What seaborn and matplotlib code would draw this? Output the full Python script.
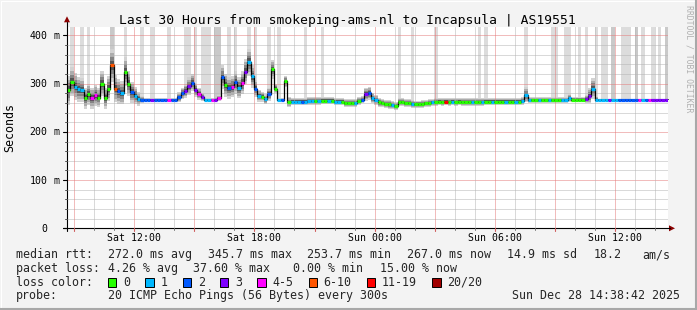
import numpy as np
import pandas as pd
import matplotlib
matplotlib.use("Agg")
import matplotlib.pyplot as plt
import seaborn as sns
from matplotlib.lines import Line2D
from matplotlib.patches import Rectangle, Polygon

# ---------------- data ----------------
start_time = "2025-12-27 08:38:42"
span_hours = 30
step_minutes = 10

median_ms = [
    286, 304, 294, 288, 287, 270, 278, 270, 276, 271, 300, 270, 290, 338, 290, 284, 281, 325, 300, 282, 275, 268, 267,
    267, 267, 267, 267, 267, 267, 267, 267, 267, 267,
    272, 280, 285, 295, 302, 287, 279, 272,
    267, 267, 267, 267, 270,
    314, 297, 291, 294, 303, 292, 302, 325, 345, 315, 290, 275, 273, 268, 278, 330, 290,
    267, 267,
    305, 262, 263,
    263, 263, 263, 263, 264, 264, 264, 264, 265, 265, 265, 265, 263, 263, 263, 260, 260, 260, 260, 264, 267,
    278, 280, 270, 266, 261, 260, 258, 257, 256, 254, 262, 262, 260, 260, 258, 257, 257, 258, 259, 260, 261,
    262, 263, 262, 263, 262, 263, 262, 263, 262, 262,
    262, 262, 262, 262, 262, 263, 263, 263, 263, 263, 263, 263, 263, 263, 263, 263, 264,
    277,
    266, 266, 266, 266, 266, 266, 266, 266, 266, 266, 266, 266,
    270,
    267, 267, 267, 267, 268,
    275, 290, 267,
    267, 267, 267, 267, 267, 267, 267, 267, 267, 267, 267, 267, 267, 267, 267, 267, 267, 267, 267, 267, 267, 267,
]

loss_class = [
    0, 0, 1, 1, 1, 0, 0, 4, 4, 0, 0, 0, 0, 5, 5, 2, 1, 0, 0, 2, 1, 1, 2,
    2, 2, 3, 2, 2, 2, 2, 4, 2, 2,
    2, 2, 3, 3, 2, 3, 4, 3,
    1, 1, 4, 3, 4,
    2, 0, 2, 4, 2, 1, 4, 3, 1, 1, 2, 1, 0, 1, 2, 0, 0,
    1, 2,
    0, 0, 1,
    1, 1, 2, 1, 1, 1, 0, 1, 0, 0, 1, 0, 1, 1, 0, 0, 0, 0, 1, 0, 2,
    3, 2, 1, 1, 0, 0, 0, 0, 1, 0, 0, 0, 0, 0, 1, 0, 0, 0, 0, 0, 1,
    0, 0, 0, 6, 0, 1, 0, 0, 0, 0,
    0, 1, 0, 0, 1, 0, 0, 1, 0, 0, 0, 1, 0, 0, 1, 0, 1,
    1,
    1, 0, 0, 1, 0, 0, 1, 0, 0, 0, 1, 1,
    1,
    0, 0, 0, 0, 3,
    3, 1, 1,
    1, 1, 1, 3, 1, 1, 2, 2, 2, 2, 2, 2, 4, 1, 2, 4, 3, 3, 3, 3, 3, 3,
]

smoke_ms = [
    30, 30, 28, 25, 24, 22, 22, 22, 22, 20, 26, 22, 26, 34, 28, 26, 24, 30, 26, 22, 18, 14, 8,
    3, 3, 3, 3, 3, 3, 3, 3, 3, 3,
    10, 12, 15, 18, 18, 15, 12, 8,
    3, 3, 3, 4, 6,
    24, 24, 22, 22, 24, 22, 24, 26, 28, 24, 18, 12, 10, 10, 14, 20, 10,
    3, 3,
    12, 10, 8,
    8, 8, 8, 8, 8, 8, 8, 8, 8, 8, 8, 8, 8, 8, 8, 9, 9, 9, 9, 8, 8,
    14, 14, 11, 10, 9, 9, 9, 9, 9, 9, 8, 8, 8, 8, 8, 8, 8, 8, 8, 8, 8,
    8, 8, 8, 8, 8, 8, 8, 8, 8, 8,
    8, 8, 8, 8, 8, 8, 8, 8, 8, 8, 8, 8, 8, 8, 8, 8, 8,
    16,
    6, 6, 6, 6, 6, 6, 6, 6, 6, 6, 6, 6,
    8,
    5, 5, 5, 5, 8,
    16, 22, 6,
    1, 1, 1, 1, 1, 1, 1, 1, 1, 1, 1, 1, 1, 1, 1, 1, 1, 1, 1, 1, 1, 1,
]

loss_bar_steps = [1, 4, 6, 13, 17, 22, 25, 30, 35, 36, 38, 40, 41, 42, 44, 45, 48, 50, 54, 56,
                  60, 63, 71, 76, 99, 103, 110, 123, 125, 137, 145, 146, 149, 150, 153, 155,
                  158, 160, 161, 163, 166, 167, 168, 170, 172, 175, 177, 179]
loss_bar_dark = [13, 44, 45, 163, 170, 179]

y_ticks_ms = [0, 100, 200, 300, 400]
y_tick_labels = ["0", "100", "200", "300", "400"]
x_tick_labels = ["Sat 12:00", "Sat 18:00", "Sun 00:00", "Sun 06:00", "Sun 12:00"]

loss_colors = ["#26ff00", "#00b8ff", "#0059ff", "#7e00ff", "#ff00ff", "#ff5500", "#ff0000", "#a10000"]
loss_labels = ["0", "1", "2", "3", "4-5", "6-10", "11-19", "20/20"]

title = "Last 30 Hours from smokeping-ams-nl to Incapsula | AS19551"
rtt_items = ["272.0 ms avg", "345.7 ms max", "253.7 ms min", "267.0 ms now", "14.9 ms sd", "18.2", "am/s"]
loss_items = ["4.26 % avg", "37.60 % max", "0.00 % min", "15.00 % now"]
probe_text = "20 ICMP Echo Pings (56 Bytes) every 300s"
stamp_text = "Sun Dec 28 14:38:42 2025"
credit_text = "RRDTOOL / TOBI OETIKER"

# ---------------- layout ----------------
sns.set_style("white")
plt.rcParams["font.family"] = ["DejaVu Sans Mono"]

W, H = 697, 310
BG = "#f3f3f3"
X0, X1, Y0, Y1 = 67, 668, 27.3, 228.3
YMAX = 417.0
PX_PER_MS = (Y1 - Y0) / YMAX


def fx(x):
    return x / W


def fy(y):
    return 1 - y / H


fig = plt.figure(figsize=(W / 100, H / 100), dpi=100, facecolor=BG)
ax = fig.add_axes([fx(X0), fy(Y1), (X1 - X0) / W, (Y1 - Y0) / H])
ax.set_facecolor("white")
for s in ax.spines.values():
    s.set_visible(False)
ax.set_xticks([])
ax.set_yticks([])
ax.set_xlim(0, span_hours)
ax.set_ylim(0, YMAX)

t0 = pd.Timestamp(start_time)
t_end = t0 + pd.Timedelta(hours=span_hours)
step_h = step_minutes / 60.0
n = len(median_ms)
t = np.arange(n) * step_h
med = np.array(median_ms, dtype=float)
spr = np.array(smoke_ms, dtype=float)
t_ext = np.append(t, t[-1] + step_h)
m_ext = np.append(med, med[-1])
s_ext = np.append(spr, spr[-1])

dot = (0, (1, 1))
MINOR_C = "#b4b4b4"
MAJOR_C = "#e47a7a"
GZ = 3.5
# horizontal grid
for v in range(20, int(YMAX), 20):
    major = v % 100 == 0
    ax.axhline(v, color=MAJOR_C if major else MINOR_C, lw=0.72, ls=dot, zorder=GZ)
# vertical grid (hourly, red every 3 hours)
hour_times = pd.date_range(t0.ceil("h"), t_end, freq="h")
for ht in hour_times:
    hh = (ht - t0) / pd.Timedelta(hours=1)
    major = ht.hour % 3 == 0
    ax.axvline(hh, color=MAJOR_C if major else MINOR_C, lw=0.72, ls=dot, zorder=GZ)

# loss bars (grey columns up to the top)
bar_x = [t[i] for i in loss_bar_steps]
bar_b = [med[i] for i in loss_bar_steps]
bar_h = [YMAX - med[i] for i in loss_bar_steps]
bar_c = ["#c9c9c9" if i in loss_bar_dark else "#dcdcdc" for i in loss_bar_steps]
ax.bar(bar_x, bar_h, bottom=bar_b, width=step_h, align="edge", color=bar_c, linewidth=0, zorder=2)

# smoke
for frac, col in [(1.0, "#d2d2d2"), (0.75, "#acacac"), (0.5, "#848484"), (0.28, "#555555")]:
    ax.fill_between(t_ext, m_ext - frac * s_ext, m_ext + frac * s_ext, step="post",
                    color=col, linewidth=0, zorder=3)

# median line (black steps) + loss coloured segments
df = pd.DataFrame({"hours": t_ext, "median": m_ext})
sns.lineplot(data=df, x="hours", y="median", ax=ax, color="black", lw=0.9,
             drawstyle="steps-post", estimator=None, sort=False, zorder=4)
ax.hlines(med, t, t + step_h, colors=[loss_colors[c] for c in loss_class], lw=2.3,
          zorder=5, capstyle="butt")
ax.set_xlabel("")
ax.set_ylabel("")
ax.set_xlim(0, span_hours)
ax.set_ylim(0, YMAX)

# ---------------- axes lines, ticks, arrows ----------------
AX_C = "black"
ARROW_C = "#8b0000"
fig.add_artist(Line2D([fx(X0), fx(X0)], [fy(Y1 + 3), fy(Y0 - 5)], color=AX_C, lw=0.8))
fig.add_artist(Line2D([fx(X0 - 4), fx(X1 + 2)], [fy(Y1), fy(Y1)], color=AX_C, lw=0.8))
fig.add_artist(Polygon([(fx(X0 - 3), fy(Y0 - 5)), (fx(X0 + 3), fy(Y0 - 5)), (fx(X0), fy(Y0 - 11))],
                       closed=True, color=ARROW_C, lw=0))
fig.add_artist(Polygon([(fx(X1 + 1), fy(Y1 - 3)), (fx(X1 + 1), fy(Y1 + 3)), (fx(X1 + 7), fy(Y1))],
                       closed=True, color=ARROW_C, lw=0))

for v, lab in zip(y_ticks_ms, y_tick_labels):
    yp = Y1 - v * PX_PER_MS
    fig.add_artist(Line2D([fx(X0 - 4), fx(X0)], [fy(yp), fy(yp)], color=AX_C, lw=0.8))
    fig.text(fx(47.5), fy(yp + 3.6), lab, ha="right", va="baseline", fontsize=7.1, color="#000000")
    if v > 0:
        fig.text(fx(54), fy(yp + 3.6), "m", ha="left", va="baseline", fontsize=7.1, color="#000000")
for v in range(20, int(YMAX), 20):
    if v % 100:
        yp = Y1 - v * PX_PER_MS
        fig.add_artist(Line2D([fx(X0 - 2), fx(X0)], [fy(yp), fy(yp)], color="#555555", lw=0.7))

for ht in hour_times:
    hh = (ht - t0) / pd.Timedelta(hours=1)
    xp = X0 + hh * (X1 - X0) / span_hours
    if ht.hour % 3 == 0:
        fig.add_artist(Line2D([fx(xp), fx(xp)], [fy(Y1), fy(Y1 + 3)], color="#d06060", lw=0.8))
    else:
        fig.add_artist(Line2D([fx(xp), fx(xp)], [fy(Y1), fy(Y1 + 2)], color="#777777", lw=0.7))

label_times = pd.date_range(t0.ceil("6h"), t_end, freq="6h")
for lt, lab in zip(label_times, x_tick_labels):
    hh = (lt - t0) / pd.Timedelta(hours=1)
    xp = X0 + hh * (X1 - X0) / span_hours
    fig.text(fx(xp), fy(241.2), lab, ha="center", va="baseline", fontsize=7.1, color="black")

# ---------------- texts ----------------
fig.text(fx(347.5), fy(24), title, ha="center", va="baseline", fontsize=9.4, color="black")
fig.text(fx(10), fy((Y0 + Y1) / 2), "Seconds", rotation=90, ha="center", va="center",
         fontsize=8.4, color="black")
fig.text(fx(689), fy(59), credit_text, rotation=270, ha="center", va="center",
         fontsize=5.9, color="#b0b0b0")

FS = 8.4
rows_y = [258.3, 272.0, 285.7, 299.3]
fig.text(fx(15.6), fy(rows_y[0]), "median rtt:", ha="left", va="baseline", fontsize=FS)
for xs, txt in zip([107.6, 207.6, 306.7, 406.7, 506.7, 593.3, 642.2], rtt_items):
    fig.text(fx(xs), fy(rows_y[0]), txt, ha="left", va="baseline", fontsize=FS)
fig.text(fx(15.6), fy(rows_y[1]), "packet loss:", ha="left", va="baseline", fontsize=FS)
for xs, txt in zip([107.6, 193.3, 293.3, 380.0], loss_items):
    fig.text(fx(xs), fy(rows_y[1]), txt, ha="left", va="baseline", fontsize=FS)
fig.text(fx(15.6), fy(rows_y[2]), "loss color:", ha="left", va="baseline", fontsize=FS)
CW = 7.02
xs = 108.0
for col, lab in zip(loss_colors, loss_labels):
    fig.add_artist(Rectangle((fx(xs), fy(286.7)), 8.4 / W, 8.4 / H, facecolor=col,
                             edgecolor="black", lw=0.7))
    fig.text(fx(xs + 15.1), fy(rows_y[2]), lab, ha="left", va="baseline", fontsize=FS)
    xs = xs + 15.1 + len(lab) * CW + 15.2
fig.text(fx(15.6), fy(rows_y[3]), "probe:", ha="left", va="baseline", fontsize=FS)
fig.text(fx(107.6), fy(rows_y[3]), probe_text, ha="left", va="baseline", fontsize=FS)
fig.text(fx(680), fy(rows_y[3]), stamp_text, ha="right", va="baseline", fontsize=FS)

# frame
fig.add_artist(Line2D([fx(0.5), fx(696.5)], [fy(0.5), fy(0.5)], color="#ffffff", lw=0.8))
fig.add_artist(Line2D([fx(0.5), fx(0.5)], [fy(0.5), fy(309.5)], color="#ffffff", lw=0.8))
fig.add_artist(Line2D([fx(695.5), fx(695.5)], [fy(0), fy(310)], color="#a8a8a8", lw=1.5))
fig.add_artist(Line2D([fx(0), fx(697)], [fy(308.5), fy(308.5)], color="#a8a8a8", lw=1.5))

fig.savefig("out.png", dpi=100, facecolor=BG)
